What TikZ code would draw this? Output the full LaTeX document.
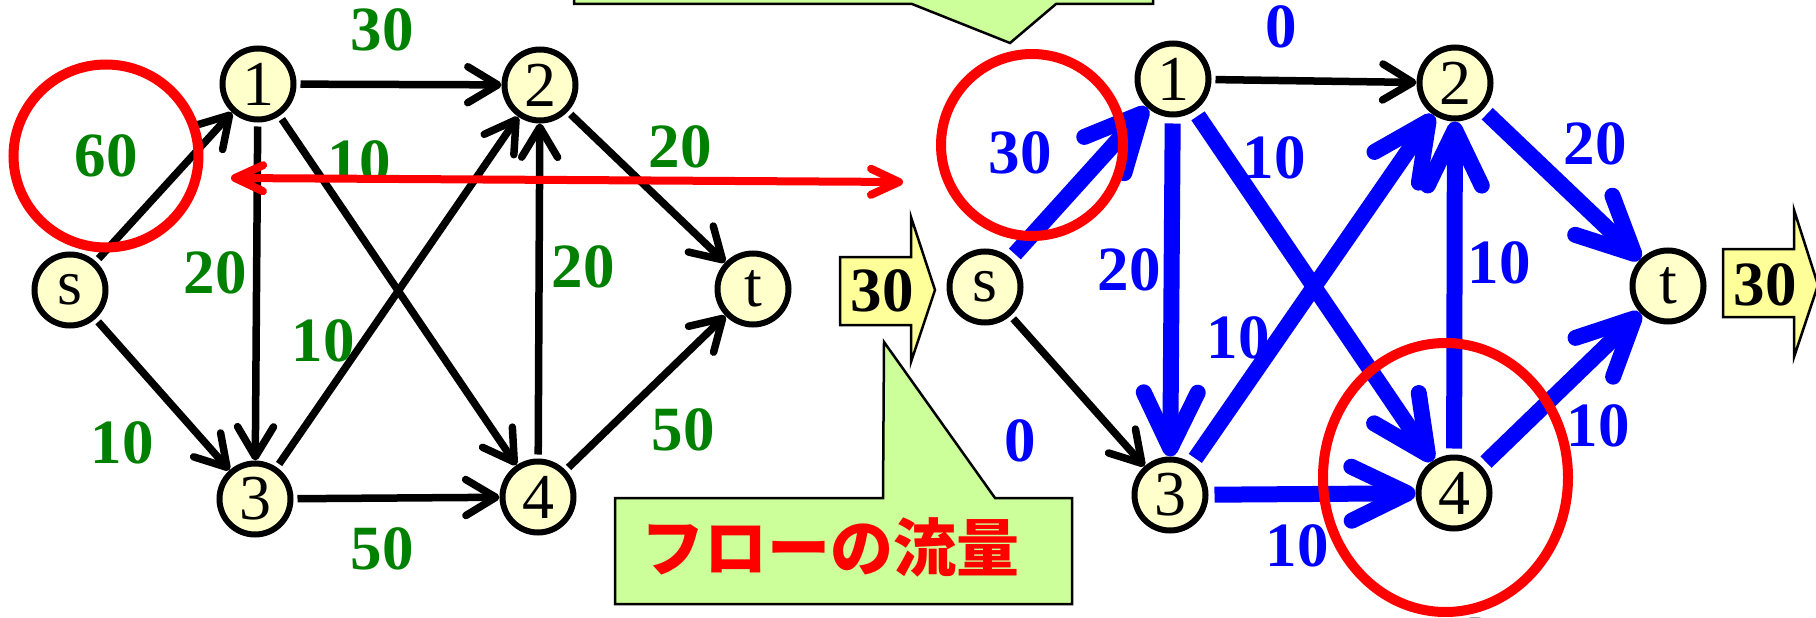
\documentclass[tikz,border=0pt]{standalone}
\usepackage{fontspec}
\setmainfont{Liberation Serif}
\newfontfamily\jpfont{Noto Sans CJK JP}
\usetikzlibrary{arrows.meta}
\definecolor{nodefill}{HTML}{FFFFCC}
\definecolor{calloutfill}{HTML}{CCFF99}
\definecolor{yelfill}{HTML}{FFFF99}
\definecolor{grn}{HTML}{008000}
\begin{document}
\begin{tikzpicture}[x=1pt,y=-1pt,
  vtx/.style={circle, draw=black, line width=6pt, fill=nodefill, minimum size=71pt, inner sep=0pt, font=\fontsize{64}{64}\selectfont},
  blk/.style={draw=black, line width=7.5pt, shorten <=4pt, -{Straight Barb[length=30pt,width=36pt,line cap=round,round]}},
  blu/.style={draw=blue, line width=16pt, shorten <=6pt, -{Straight Barb[length=56pt,width=54pt,line cap=round,round]}},
  gl/.style={text=grn, inner sep=0pt, font=\bfseries\fontsize{63}{63}\selectfont},
  bl/.style={text=blue, inner sep=0pt, font=\bfseries\fontsize{63}{63}\selectfont},
  ring/.style={draw=red, line width=10pt},
  callout/.style={draw=black, line width=2.5pt, fill=calloutfill},
  yarrow/.style={draw=black, line width=2.5pt, fill=yelfill},
  ylabel/.style={inner sep=0pt, font=\bfseries\fontsize{63}{63}\selectfont}
]
\useasboundingbox (0,0) rectangle (1816,618);

% callouts
\draw[callout] (574,-10) -- (1153,-10) -- (1153,4) -- (1056,4) -- (1010,43) -- (912,4) -- (574,4) -- cycle;
\draw[callout] (615,498) -- (883,498) -- (884,342) -- (995,498) -- (1072,498) -- (1072,604) -- (615,604) -- cycle;
\node[text=red, inner sep=0pt, font=\jpfont\bfseries\fontsize{63}{63}\selectfont] (flow) at (830,547) {フローの流量};

% yellow arrows
\draw[yarrow] (840,257) -- (911,257) -- (911,217) -- (935,290) -- (911,362) -- (911,325) -- (840,325) -- cycle;
\node[ylabel] (v1) at (882,291) {30};
\draw[yarrow] (1723,249) -- (1794,249) -- (1794,210) -- (1818,285) -- (1794,357) -- (1794,317) -- (1723,317) -- cycle;
\node[ylabel] (v2) at (1765,285) {30};

% left graph
\node[vtx] (Ls) at (70,290) {s};
\node[vtx] (L1) at (258,84) {1};
\node[vtx] (L2) at (540,85) {2};
\node[vtx] (Lt) at (753,289) {t};
\node[vtx] (L3) at (255,499) {3};
\node[vtx] (L4) at (538,497) {4};

\draw[blk] (Ls) -- (L1);
\draw[blk] (Ls) -- (L3);
\draw[blk] (L1) -- (L2);
\draw[blk] (L1) -- (L3);
\draw[blk] (L1) -- (L4);
\draw[blk] (L3) -- (L2);
\draw[blk] (L4) -- (L2);
\draw[blk] (L3) -- (L4);
\draw[blk] (L2) -- (Lt);
\draw[blk] (L4) -- (Lt);

\node[gl] (a1) at (382,30) {30};
\node[gl] (a2) at (106,156) {60};
\node[gl] (a3) at (359,162) {10};
\node[gl] (a4) at (680,147) {20};
\node[gl] (a5) at (215,273) {20};
\node[gl] (a6) at (583,267) {20};
\node[gl] (a7) at (323,341) {10};
\node[gl] (a8) at (122,443) {10};
\node[gl] (a9) at (683,430) {50};
\node[gl] (a10) at (382,549) {50};

% right graph
\node[vtx] (Rs) at (985,287) {s};
\node[vtx] (R1) at (1173,79) {1};
\node[vtx] (R2) at (1455,83) {2};
\node[vtx] (Rt) at (1668,286) {t};
\node[vtx] (R3) at (1170,495) {3};
\node[vtx] (R4) at (1454,493) {4};

\draw[blk] (R1) -- (R2);
\draw[blk] (Rs) -- (R3);
\draw[blu] (Rs) -- (R1);
\draw[blu] (R1) -- (R3);
\draw[blu] (R1) -- (R4);
\draw[blu] (R3) -- (R2);
\draw[blu] (R4) -- (R2);
\draw[blu] (R3) -- (R4);
\draw[blu] (R2) -- (Rt);
\draw[blu] (R4) -- (Rt);

\node[bl] (b1) at (1281,27) {0};
\node[bl] (b2) at (1020,153) {30};
\node[bl] (b3) at (1274,158) {10};
\node[bl] (b4) at (1595,144) {20};
\node[bl] (b5) at (1129,270) {20};
\node[bl] (b6) at (1499,263) {10};
\node[bl] (b7) at (1238,338) {10};
\node[bl] (b8) at (1020,441) {0};
\node[bl] (b9) at (1598,426) {10};
\node[bl] (b10) at (1297,546) {10};

% red double arrow
\coordinate (ra) at (231,178);
\coordinate (rb) at (903,182);
\draw[red, line width=8pt, {Straight Barb[length=28pt,width=26pt,line cap=round,round]}-{Straight Barb[length=28pt,width=26pt,line cap=round,round]}] (ra) -- (rb);

% red rings
\draw[ring] (106,156) ellipse [x radius=92.5, y radius=91.5];
\draw[ring] (1032,145) ellipse [x radius=91, y radius=91];
\draw[ring] (1445.5,477.5) ellipse [x radius=122.5, y radius=134.5];

% sliver at bottom edge
\draw[black, line width=5pt] (1475,662) ++(250:42) arc[start angle=250, end angle=290, radius=42];
\end{tikzpicture}
\end{document}
